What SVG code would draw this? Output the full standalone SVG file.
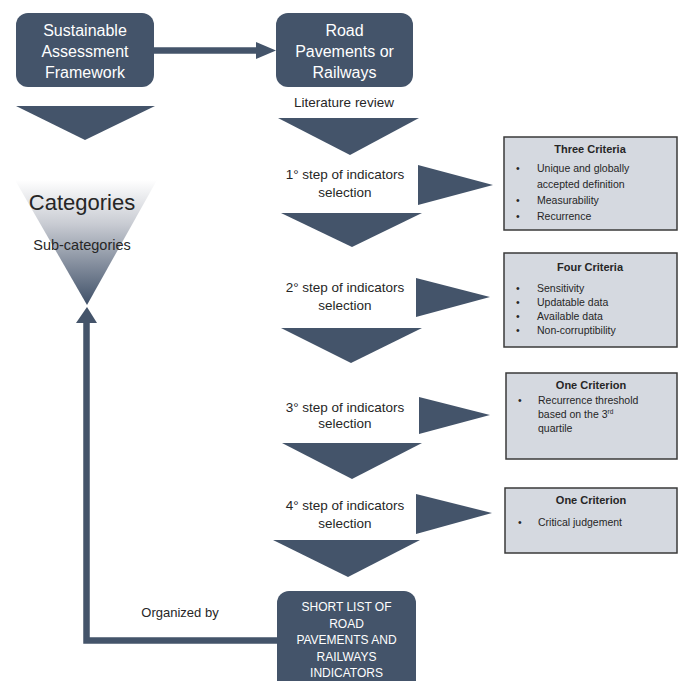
<svg xmlns="http://www.w3.org/2000/svg" width="680" height="681" viewBox="0 0 680 681">
<defs>
<linearGradient id="catGrad" x1="0" y1="0" x2="0" y2="1">
<stop offset="0" stop-color="#ffffff"/>
<stop offset="0.35" stop-color="#c9ccd3"/>
<stop offset="1" stop-color="#3f5068"/>
</linearGradient>
<style>
.dark{fill:#44546A;}
.wt{fill:#ffffff;font-family:"Liberation Sans",Arial,sans-serif;font-size:16px;text-anchor:middle;}
.wts{fill:#ffffff;font-family:"Liberation Sans",Arial,sans-serif;font-size:12px;text-anchor:middle;}
.step{fill:#262626;font-family:"Liberation Sans",Arial,sans-serif;font-size:13.5px;text-anchor:middle;}
.crit{fill:#D5D9E0;stroke:#3a3a3a;stroke-width:1.5;}
.ct{fill:#262626;font-family:"Liberation Sans",Arial,sans-serif;font-size:10.5px;}
.ctt{fill:#262626;font-family:"Liberation Sans",Arial,sans-serif;font-size:11px;font-weight:bold;text-anchor:middle;}
.conn{fill:none;stroke:#44546A;stroke-width:6.5;}
</style>
</defs>
<rect width="680" height="681" fill="#ffffff"/>

<g id="connectors">
<line class="conn" x1="154" y1="50.5" x2="258" y2="50.5" stroke-width="7"/>
<polygon class="dark" points="256,42 276,50.5 256,59"/>
<path class="conn" d="M277,640.5 L86.5,640.5 L86.5,322"/>
<polygon class="dark" points="76,323 87,307 97,323"/>
</g>

<g id="saf">
<rect class="dark" x="16" y="13" width="138" height="74" rx="12"/>
<text class="wt" x="85" y="36">Sustainable</text>
<text class="wt" x="85" y="57">Assessment</text>
<text class="wt" x="85" y="78">Framework</text>
</g>

<g id="road">
<rect class="dark" x="276" y="13" width="137" height="74" rx="12"/>
<text class="wt" x="344.5" y="36">Road</text>
<text class="wt" x="344.5" y="57">Pavements or</text>
<text class="wt" x="344.5" y="78">Railways</text>
</g>

<g id="left-chevron">
<polygon class="dark" points="16,106 155,106 85,140"/>
</g>

<g id="categories">
<polygon fill="url(#catGrad)" points="15,180 157,180 87,305"/>
<text x="82" y="210" fill="#262626" font-family="'Liberation Sans',Arial,sans-serif" font-size="22" text-anchor="middle">Categories</text>
<text x="82" y="250" fill="#262626" font-family="'Liberation Sans',Arial,sans-serif" font-size="14.5" text-anchor="middle">Sub-categories</text>
</g>

<g id="lit-review">
<text class="step" x="344" y="107">Literature review</text>
<polygon class="dark" points="278,118 419,118 350,155"/>
</g>

<g id="step1">
<text class="step" x="345" y="179">1° step of indicators</text>
<text class="step" x="345" y="197">selection</text>
<polygon class="dark" points="418,165 418,205 493,185"/>
<polygon class="dark" points="281,213 422,213 352,247"/>
</g>

<g id="crit1">
<rect class="crit" x="504" y="137" width="173" height="93"/>
<text class="ctt" x="590" y="153">Three Criteria</text>
<text class="ct" x="516" y="172">•</text><text class="ct" x="537" y="172">Unique and globally</text>
<text class="ct" x="537" y="188">accepted definition</text>
<text class="ct" x="516" y="204">•</text><text class="ct" x="537" y="204">Measurability</text>
<text class="ct" x="516" y="220">•</text><text class="ct" x="537" y="220">Recurrence</text>
</g>

<g id="step2">
<text class="step" x="345" y="292">2° step of indicators</text>
<text class="step" x="345" y="310">selection</text>
<polygon class="dark" points="416,278 416,317 490,297"/>
<polygon class="dark" points="281,328 422,328 351,363"/>
</g>

<g id="crit2">
<rect class="crit" x="504" y="253" width="173" height="94"/>
<text class="ctt" x="590" y="271">Four Criteria</text>
<text class="ct" x="516" y="292">•</text><text class="ct" x="537" y="292">Sensitivity</text>
<text class="ct" x="516" y="306">•</text><text class="ct" x="537" y="306">Updatable data</text>
<text class="ct" x="516" y="320">•</text><text class="ct" x="537" y="320">Available data</text>
<text class="ct" x="516" y="334">•</text><text class="ct" x="537" y="334">Non-corruptibility</text>
</g>

<g id="step3">
<text class="step" x="345" y="412">3° step of indicators</text>
<text class="step" x="345" y="428">selection</text>
<polygon class="dark" points="419,397 419,434 490,415"/>
<polygon class="dark" points="282,443 422,443 352,479"/>
</g>

<g id="crit3">
<rect class="crit" x="506" y="373" width="171" height="86"/>
<text class="ctt" x="591" y="389">One Criterion</text>
<text class="ct" x="518" y="404">•</text><text class="ct" x="538" y="404">Recurrence threshold</text>
<text class="ct" x="538" y="418">based on the 3<tspan font-size="6.5" dy="-4">rd</tspan></text>
<text class="ct" x="538" y="432">quartile</text>
</g>

<g id="step4">
<text class="step" x="345" y="510">4° step of indicators</text>
<text class="step" x="345" y="528">selection</text>
<polygon class="dark" points="416,494 416,534 492,513"/>
<polygon class="dark" points="273,540 420,540 348,577"/>
</g>

<g id="crit4">
<rect class="crit" x="505" y="488" width="172" height="65"/>
<text class="ctt" x="591" y="504">One Criterion</text>
<text class="ct" x="518" y="526">•</text><text class="ct" x="538" y="526">Critical judgement</text>
</g>

<g id="organized">
<text x="180" y="617" fill="#262626" font-family="'Liberation Sans',Arial,sans-serif" font-size="13" text-anchor="middle">Organized by</text>
</g>

<g id="shortlist">
<rect class="dark" x="277" y="591" width="139" height="110" rx="12"/>
<text class="wts" x="346.5" y="611">SHORT LIST OF</text>
<text class="wts" x="346.5" y="627.5">ROAD</text>
<text class="wts" x="346.5" y="644">PAVEMENTS AND</text>
<text class="wts" x="346.5" y="660.5">RAILWAYS</text>
<text class="wts" x="346.5" y="677">INDICATORS</text>
</g>
</svg>
